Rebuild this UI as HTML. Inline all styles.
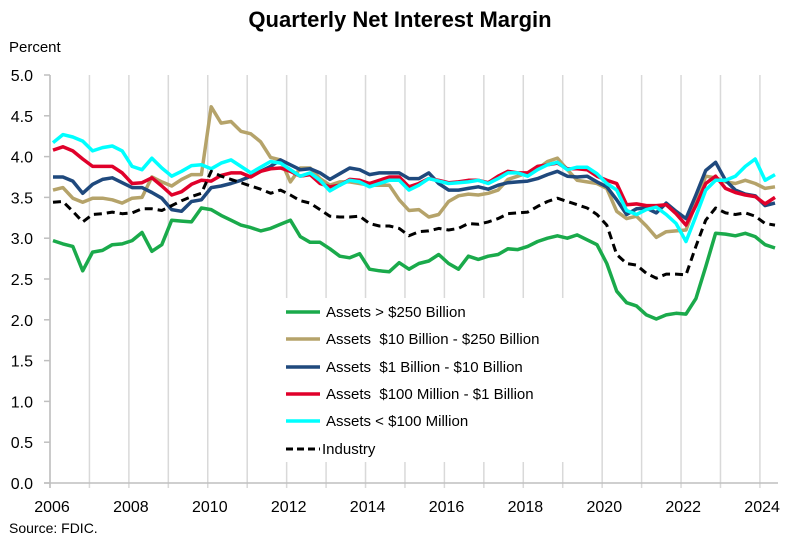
<!DOCTYPE html>
<html><head><meta charset="utf-8"><style>
body{margin:0;background:#fff;}
svg{display:block;font-family:"Liberation Sans",sans-serif;}
</style></head><body>
<svg id="c" width="800" height="544" viewBox="0 0 800 544" xmlns="http://www.w3.org/2000/svg">
<rect width="800" height="544" fill="#fff"/>
<text x="400" y="27" text-anchor="middle" font-size="22" font-weight="bold" fill="#000">Quarterly Net Interest Margin</text>
<text x="9" y="52" font-size="15" fill="#000">Percent</text>
<g id="grid"></g>
<g id="series"></g>
<rect x="278" y="298" width="316" height="164" fill="#fff"/>
<g font-size="15" fill="#000" style="white-space:pre">
<line x1="286" y1="312" x2="320" y2="312" stroke="#1aaa4b" stroke-width="3.5"/><text x="326" y="317">Assets &gt; $250 Billion</text>
<line x1="286" y1="339" x2="320" y2="339" stroke="#b5a36a" stroke-width="3.5"/><text x="326" y="344" xml:space="preserve">Assets  $10 Billion - $250 Billion</text>
<line x1="286" y1="367" x2="320" y2="367" stroke="#1f497d" stroke-width="3.5"/><text x="326" y="372" xml:space="preserve">Assets  $1 Billion - $10 Billion</text>
<line x1="286" y1="394" x2="320" y2="394" stroke="#e0002a" stroke-width="3.5"/><text x="326" y="399" xml:space="preserve">Assets  $100 Million - $1 Billion</text>
<line x1="286" y1="421" x2="320" y2="421" stroke="#00ffff" stroke-width="3.5"/><text x="326" y="426">Assets &lt; $100 Million</text>
<line x1="286" y1="449" x2="320" y2="449" stroke="#000" stroke-width="3" stroke-dasharray="7,4"/><text x="322" y="454">Industry</text>
</g>
<text x="9" y="533" font-size="14" fill="#000">Source: FDIC.</text>
</svg>
<script>
var NS="http://www.w3.org/2000/svg";
function el(p,t,a,txt){var e=document.createElementNS(NS,t);for(var k in a)e.setAttribute(k,a[k]);if(txt!==undefined)e.textContent=txt;p.appendChild(e);return e;}
var g=document.getElementById("grid");
function Y(v){return 483-v*81.6;}
for(var k=0;k<=18;k++){var x=50+39.44*k;el(g,"line",{x1:x,y1:75,x2:x,y2:488,stroke:"#d9d9d9","stroke-width":1.5});}
el(g,"line",{x1:50,y1:75,x2:50,y2:488,stroke:"#bfbfbf","stroke-width":1.5});
el(g,"line",{x1:44,y1:483,x2:778,y2:483,stroke:"#bfbfbf","stroke-width":1.5});
for(var i=0;i<=10;i++){var v=i*0.5;el(g,"line",{x1:44,y1:Y(v),x2:50,y2:Y(v),stroke:"#bfbfbf","stroke-width":1.5});
el(g,"text",{x:33,y:Y(v)+6,"text-anchor":"end","font-size":16,fill:"#000"},v.toFixed(1));}
for(var k=0;k<=9;k++){el(g,"text",{x:52+78.9*k,y:512,"text-anchor":"middle","font-size":16,fill:"#000"},String(2006+2*k));}
var S=document.getElementById("series");
var data=[
["#1aaa4b",[2.97,2.93,2.90,2.60,2.83,2.85,2.92,2.93,2.97,3.07,2.84,2.92,3.22,3.21,3.20,3.37,3.35,3.28,3.22,3.16,3.13,3.09,3.12,3.17,3.22,3.02,2.95,2.95,2.87,2.78,2.76,2.81,2.62,2.60,2.59,2.70,2.62,2.69,2.72,2.80,2.69,2.62,2.78,2.74,2.78,2.80,2.87,2.86,2.90,2.96,3.00,3.03,3.00,3.04,2.98,2.92,2.69,2.35,2.21,2.17,2.06,2.01,2.06,2.08,2.07,2.26,2.65,3.06,3.05,3.03,3.06,3.02,2.92,2.88],0],
["#b5a36a",[3.59,3.62,3.49,3.44,3.49,3.49,3.47,3.43,3.49,3.50,3.75,3.69,3.64,3.72,3.78,3.78,4.61,4.41,4.43,4.31,4.28,4.18,3.99,3.96,3.69,3.86,3.86,3.73,3.65,3.69,3.69,3.67,3.65,3.65,3.65,3.47,3.34,3.35,3.26,3.29,3.45,3.52,3.54,3.53,3.55,3.59,3.72,3.76,3.80,3.85,3.94,3.98,3.84,3.71,3.69,3.67,3.61,3.33,3.24,3.27,3.15,3.01,3.08,3.09,3.10,3.43,3.76,3.74,3.69,3.67,3.71,3.67,3.61,3.63],0],
["#1f497d",[3.75,3.75,3.70,3.55,3.66,3.72,3.74,3.68,3.62,3.62,3.56,3.49,3.35,3.33,3.45,3.47,3.62,3.64,3.67,3.71,3.76,3.82,3.88,3.96,3.90,3.84,3.85,3.80,3.72,3.79,3.86,3.84,3.78,3.80,3.80,3.80,3.73,3.73,3.80,3.67,3.59,3.59,3.61,3.63,3.60,3.65,3.68,3.69,3.70,3.73,3.78,3.82,3.76,3.75,3.76,3.69,3.63,3.47,3.29,3.36,3.37,3.31,3.43,3.33,3.24,3.53,3.83,3.93,3.71,3.59,3.54,3.52,3.40,3.43],0],
["#e0002a",[4.08,4.12,4.07,3.97,3.88,3.88,3.88,3.80,3.67,3.68,3.74,3.64,3.53,3.57,3.66,3.71,3.70,3.77,3.80,3.80,3.75,3.82,3.85,3.86,3.82,3.76,3.78,3.67,3.63,3.65,3.72,3.71,3.67,3.71,3.75,3.75,3.63,3.67,3.73,3.71,3.68,3.69,3.71,3.71,3.68,3.76,3.82,3.80,3.80,3.88,3.90,3.92,3.85,3.85,3.84,3.76,3.71,3.67,3.41,3.42,3.40,3.40,3.41,3.30,3.16,3.40,3.67,3.76,3.61,3.56,3.53,3.51,3.42,3.50],0],
["#00ffff",[4.17,4.27,4.24,4.19,4.07,4.11,4.13,4.07,3.88,3.84,3.98,3.86,3.76,3.82,3.89,3.90,3.85,3.92,3.96,3.88,3.80,3.87,3.94,3.92,3.84,3.76,3.80,3.71,3.58,3.65,3.71,3.69,3.63,3.67,3.71,3.71,3.59,3.65,3.73,3.70,3.67,3.68,3.69,3.71,3.67,3.73,3.80,3.80,3.76,3.84,3.90,3.93,3.84,3.87,3.87,3.79,3.67,3.59,3.34,3.29,3.35,3.38,3.29,3.18,2.96,3.27,3.59,3.71,3.71,3.76,3.88,3.97,3.71,3.78],0],
["#000000",[3.44,3.45,3.33,3.20,3.29,3.30,3.32,3.30,3.31,3.36,3.36,3.34,3.40,3.46,3.51,3.55,3.82,3.76,3.72,3.68,3.64,3.60,3.55,3.59,3.53,3.46,3.43,3.35,3.27,3.26,3.26,3.27,3.18,3.15,3.15,3.12,3.03,3.08,3.09,3.12,3.10,3.12,3.18,3.17,3.20,3.24,3.30,3.31,3.32,3.39,3.45,3.49,3.45,3.41,3.37,3.29,3.16,2.80,2.69,2.67,2.57,2.51,2.56,2.56,2.55,2.90,3.22,3.37,3.31,3.29,3.31,3.27,3.18,3.16],1]
];
data.forEach(function(d){
var pts=d[1].map(function(v,i){return (53+i*9.89).toFixed(1)+","+Y(v).toFixed(1);}).join(" ");
var a={points:pts,fill:"none",stroke:d[0],"stroke-width":3.5,"stroke-linejoin":"round"};
if(d[2]){a["stroke-dasharray"]="8,5";a["stroke-width"]=3;}
el(S,"polyline",a);
});
</script>
</body></html>
